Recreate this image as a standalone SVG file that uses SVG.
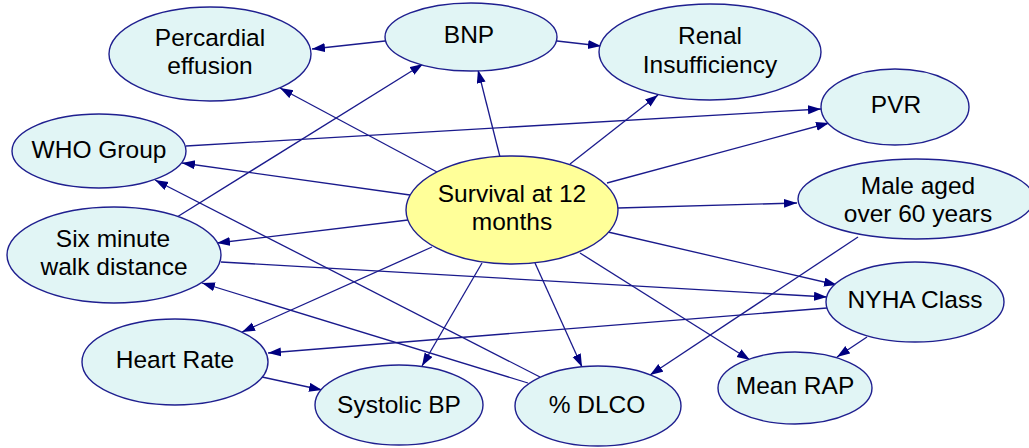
<svg xmlns="http://www.w3.org/2000/svg" width="1029" height="448" viewBox="0 0 1029 448">
  <style>
    .node ellipse { fill: #e1f5f5; stroke: #1f1f8f; stroke-width: 1.4; }
    #survival ellipse { fill: #ffff99; }
    .node text { font-family: "Liberation Sans", Arial, sans-serif; font-size: 24.5px; fill: #000; text-anchor: middle; }
    #edges line { stroke: #1a1a8c; stroke-width: 1.3; marker-end: url(#arrow); }
  </style>
  <defs>
    <marker id="arrow" markerUnits="userSpaceOnUse" markerWidth="14" markerHeight="10" refX="13" refY="4.5" orient="auto">
      <path d="M0,0 L13,4.5 L0,9 z" fill="#000080"/>
    </marker>
  </defs>
  <rect width="1029" height="448" fill="#ffffff"/>

  <!-- connectors -->
  <g id="edges">
    <line x1="385" y1="41" x2="312" y2="49"/>
    <line x1="557" y1="41" x2="601" y2="46"/>
    <line x1="500" y1="157" x2="478" y2="70"/>
    <line x1="437" y1="172" x2="280" y2="88"/>
    <line x1="177" y1="217" x2="423" y2="64"/>
    <line x1="570" y1="164" x2="658" y2="95"/>
    <line x1="186" y1="146" x2="821" y2="109"/>
    <line x1="607" y1="183" x2="829" y2="123"/>
    <line x1="410" y1="195" x2="182" y2="163"/>
    <line x1="618" y1="208" x2="797" y2="203"/>
    <line x1="408" y1="220" x2="217" y2="243"/>
    <line x1="540" y1="377" x2="155" y2="180"/>
    <line x1="528" y1="383" x2="202" y2="283"/>
    <line x1="221" y1="262" x2="827" y2="297"/>
    <line x1="608" y1="232" x2="837" y2="285"/>
    <line x1="432" y1="247" x2="242" y2="332"/>
    <line x1="827" y1="308" x2="268" y2="353"/>
    <line x1="262" y1="377" x2="322" y2="390"/>
    <line x1="482" y1="263" x2="422" y2="366"/>
    <line x1="535" y1="263" x2="582" y2="367"/>
    <line x1="580" y1="253" x2="750" y2="360"/>
    <line x1="858" y1="237" x2="650" y2="375"/>
    <line x1="867" y1="337" x2="837" y2="357"/>
  </g>

  <!-- nodes -->
  <g id="percardial" class="node">
    <ellipse cx="210" cy="54" rx="101" ry="47"/>
    <text x="210" y="46">Percardial</text>
    <text x="210" y="74">effusion</text>
  </g>
  <g id="bnp" class="node">
    <ellipse cx="471" cy="37" rx="86" ry="34"/>
    <text x="469" y="43">BNP</text>
  </g>
  <g id="renal" class="node">
    <ellipse cx="710" cy="52" rx="111" ry="48"/>
    <text x="710" y="44">Renal</text>
    <text x="710" y="73">Insufficiency</text>
  </g>
  <g id="pvr" class="node">
    <ellipse cx="895" cy="107" rx="74" ry="38"/>
    <text x="896" y="113">PVR</text>
  </g>
  <g id="male" class="node">
    <ellipse cx="916" cy="199" rx="118" ry="40"/>
    <text x="918" y="194">Male aged</text>
    <text x="918" y="222">over 60 years</text>
  </g>
  <g id="who" class="node">
    <ellipse cx="99" cy="151" rx="87" ry="37"/>
    <text x="99" y="158">WHO Group</text>
  </g>
  <g id="sixmin" class="node">
    <ellipse cx="114" cy="255" rx="107" ry="48"/>
    <text x="113" y="247">Six minute</text>
    <text x="114" y="275">walk distance</text>
  </g>
  <g id="survival" class="node">
    <ellipse cx="512" cy="210" rx="106" ry="54"/>
    <text x="512" y="202">Survival at 12</text>
    <text x="512" y="230">months</text>
  </g>
  <g id="nyha" class="node">
    <ellipse cx="915" cy="302" rx="89" ry="40"/>
    <text x="915" y="308">NYHA Class</text>
  </g>
  <g id="heartrate" class="node">
    <ellipse cx="175" cy="362" rx="93" ry="43"/>
    <text x="175" y="368">Heart Rate</text>
  </g>
  <g id="systolic" class="node">
    <ellipse cx="399" cy="405" rx="84" ry="40"/>
    <text x="399" y="413">Systolic BP</text>
  </g>
  <g id="dlco" class="node">
    <ellipse cx="598" cy="406" rx="83" ry="40"/>
    <text x="597" y="413">% DLCO</text>
  </g>
  <g id="meanrap" class="node">
    <ellipse cx="795" cy="388" rx="77" ry="36"/>
    <text x="795" y="394">Mean RAP</text>
  </g>
</svg>
